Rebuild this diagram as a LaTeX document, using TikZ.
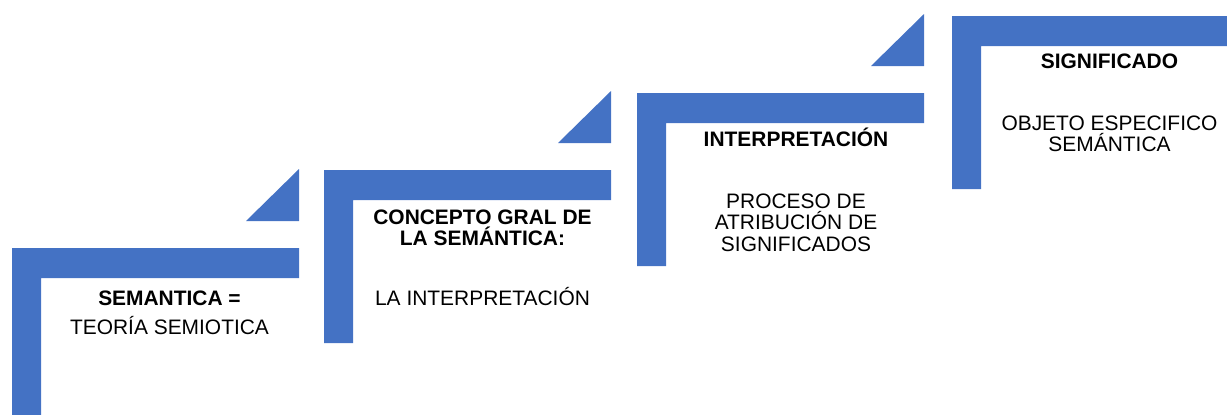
\documentclass[tikz,border=0pt]{standalone}
\usepackage{fontspec}
\setmainfont{Liberation Sans}
\usepackage{tikz}
\definecolor{stepblue}{RGB}{68,114,196}
\newcommand{\drawstep}[2]{
    \fill[stepblue] (#1,#2)--++(287,0)--++(0,30)--++(-258,0)--++(0,143)--++(-29,0)--cycle;
    \fill[stepblue] (#1+234,#2-27)--++(53,0)--++(0,-52)--cycle;
}
\tikzset{
    steptext/.style={align=center,inner sep=0pt,font=\fontsize{15.7}{16}\selectfont},
    steptitle/.style={steptext,font=\fontsize{15.7}{16}\selectfont\bfseries}
}

\begin{document}
\begin{tikzpicture}[x=0.75pt,y=-0.75pt]
\useasboundingbox (0,0) rectangle (1227,414);
\clip (0,0) rectangle (1227,414);
\drawstep{12}{248}
    \drawstep{324}{170}
    \drawstep{637}{93}
    \drawstep{952}{16}
\node[steptitle] (semtitle) at (169.5,298.5) {SEMANTICA =};
\node[steptext] (sembody) at (169.5,326) {TEORÍA SEMIOTICA};
\node[steptitle] (contitle) at (482.5,228) {CONCEPTO GRAL DE\\LA SEMÁNTICA:};
\node[steptext] (conbody) at (482.5,297) {LA INTERPRETACIÓN};
\node[steptitle] (inttitle) at (796,137.5) {INTERPRETACIÓN};
\node[steptext] (intbody) at (796,222.5) {PROCESO DE\\ATRIBUCIÓN DE\\SIGNIFICADOS};
\node[steptitle] (sigtitle) at (1109.5,61.5) {SIGNIFICADO};
\node[steptext] (sigbody) at (1109.5,134) {OBJETO ESPECIFICO\\SEMÁNTICA};
\end{tikzpicture}
\end{document}
